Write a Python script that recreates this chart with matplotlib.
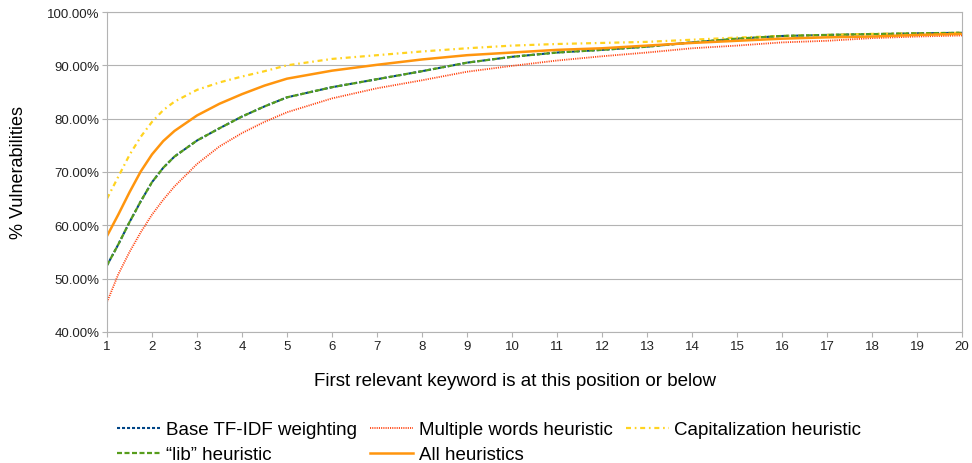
import matplotlib
matplotlib.use('Agg')
import matplotlib.pyplot as plt
from matplotlib.ticker import FuncFormatter

plt.rcParams['font.family'] = ['Liberation Sans', 'DejaVu Sans']
plt.rcParams['lines.scale_dashes'] = False

# position of first relevant keyword
position = [1, 1.25, 1.5, 1.75, 2, 2.25, 2.5, 3, 3.5, 4, 4.5, 5, 6, 7, 8, 9, 10,
            11, 12, 13, 14, 15, 16, 17, 18, 19, 20]

base_tfidf = [52.5, 56.4, 60.6, 64.5, 68.1, 70.8, 72.9, 75.9, 78.2, 80.4, 82.3, 84.0, 85.9, 87.4, 88.9, 90.5, 91.6,
              92.4, 92.9, 93.5, 94.3, 95.0, 95.5, 95.7, 95.85, 96.0, 96.1]
multiple_words = [45.6, 50.8, 55.0, 58.7, 62.0, 64.8, 67.3, 71.5, 74.8, 77.3, 79.4, 81.2, 83.8, 85.7, 87.2, 88.8, 89.9,
                  90.9, 91.7, 92.4, 93.2, 93.7, 94.3, 94.6, 95.1, 95.4, 95.6]
capitalization = [65.0, 69.1, 73.2, 76.6, 79.4, 81.6, 83.2, 85.4, 86.8, 87.9, 88.9, 90.0, 91.2, 91.9, 92.6, 93.2, 93.7,
                  94.0, 94.2, 94.4, 94.8, 95.2, 95.5, 95.7, 95.9, 96.0, 96.1]
lib_heuristic = [52.5, 56.4, 60.6, 64.5, 68.1, 70.8, 72.9, 75.9, 78.2, 80.4, 82.3, 84.0, 85.9, 87.4, 88.9, 90.5, 91.6,
                 92.4, 92.9, 93.5, 94.3, 95.0, 95.5, 95.7, 95.85, 96.0, 96.1]
all_heuristics = [58.0, 62.0, 66.2, 70.1, 73.3, 75.8, 77.7, 80.6, 82.8, 84.6, 86.2, 87.5, 89.0, 90.1, 91.1, 91.9, 92.4,
                  92.9, 93.2, 93.7, 94.2, 94.6, 95.0, 95.25, 95.4, 95.7, 95.9]

fig = plt.figure(figsize=(9.72, 4.64), dpi=100)
ax = fig.add_axes([107 / 972, 1 - 333 / 464, (962 - 107) / 972, (333 - 13) / 464])

l_base, = ax.plot(position, base_tfidf, color='#004586', lw=1.5, dashes=(2.2, 1.4),
                  label='Base TF-IDF weighting')
l_mult, = ax.plot(position, multiple_words, color='#ff420e', lw=1.3, dashes=(0.8, 0.8),
                  label='Multiple words heuristic')
l_cap, = ax.plot(position, capitalization, color='#ffd320', lw=1.6, dashes=(3.6, 2.7, 1.2, 2.7),
                 label='Capitalization heuristic')
l_lib, = ax.plot(position, lib_heuristic, color='#579d1c', lw=1.6, dashes=(3.6, 1.8),
                 label='\u201clib\u201d heuristic')
l_all, = ax.plot(position, all_heuristics, color='#ff950e', lw=1.8,
                 label='All heuristics')

ax.set_xlim(1, 20)
ax.set_ylim(40, 100)
ax.set_xticks(range(1, 21))
ax.set_yticks(range(40, 101, 10))
ax.yaxis.set_major_formatter(FuncFormatter(lambda v, p: '%.2f%%' % v))
ax.grid(axis='y', color='#b3b3b3', lw=0.8)
ax.set_axisbelow(True)
for s in ax.spines.values():
    s.set_color('#b3b3b3')
    s.set_linewidth(0.8)
ax.tick_params(axis='both', direction='out', length=3.5, width=0.8, color='#b3b3b3',
               labelsize=9.5, labelcolor='#222222', pad=2)

ax.set_ylabel('% Vulnerabilities', fontsize=13)
ax.yaxis.set_label_coords(-0.093, 0.5)
fig.text(515 / 972, 1 - 382 / 464, 'First relevant keyword is at this position or below',
         fontsize=13.5, ha='center', va='center')

fig.legend(handles=[l_base, l_lib, l_mult, l_all, l_cap], ncol=3, frameon=False,
           loc='upper left', bbox_to_anchor=(117 / 972, 1 - 422 / 464),
           fontsize=13.5, handlelength=2.3, handletextpad=0.3, columnspacing=0.7,
           labelspacing=0.42, borderpad=0, borderaxespad=0)

fig.savefig('out.png', dpi=100)
